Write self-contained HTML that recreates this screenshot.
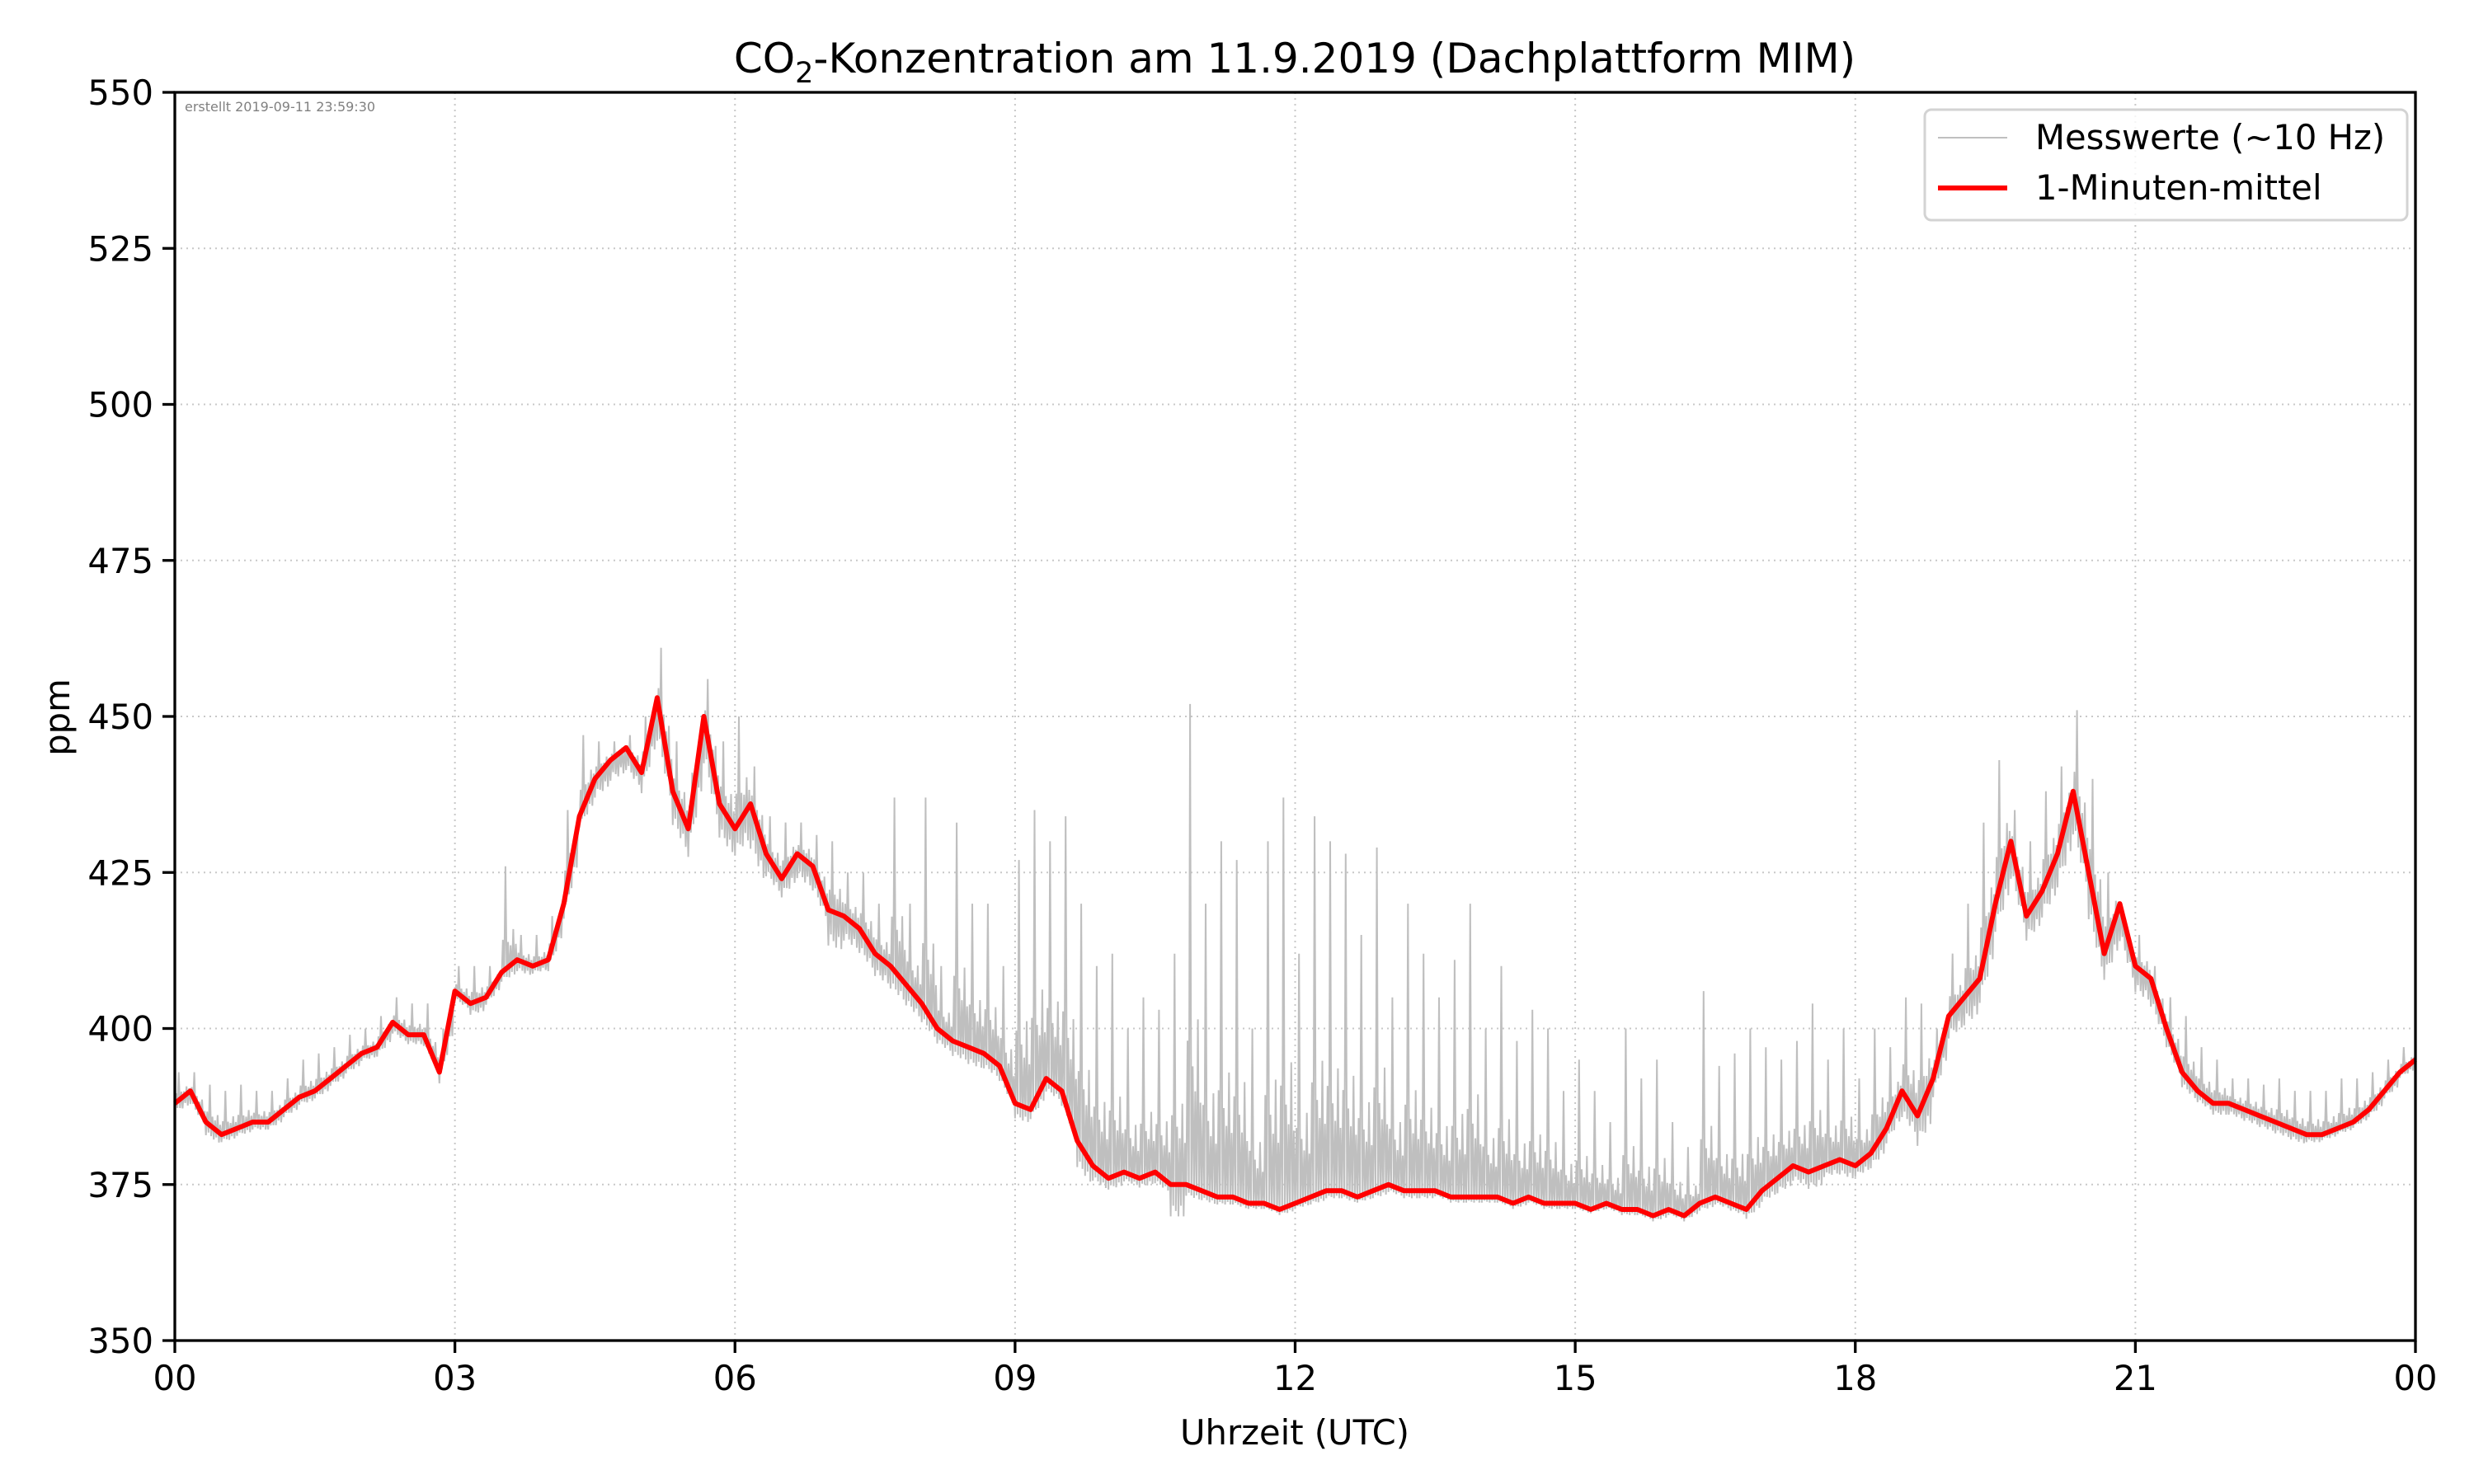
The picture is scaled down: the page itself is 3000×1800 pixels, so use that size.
<!DOCTYPE html>
<html><head><meta charset="utf-8"><style>
body{margin:0;background:#fff;}
svg{display:block;font-family:"DejaVu Sans","Liberation Sans",sans-serif;}
</style></head><body>
<svg id="chart" width="3000" height="1800" viewBox="0 0 3000 1800" xmlns="http://www.w3.org/2000/svg">
<rect width="3000" height="1800" fill="#fff"/>
<g id="grid"></g>
<g id="gray"></g>
<g id="red"></g>
<rect x="212" y="112" width="2717" height="1514" fill="none" stroke="#000" stroke-width="3.3"/>
<g id="ticks"></g>
<text x="1570" y="88" font-size="50" text-anchor="middle">CO<tspan font-size="35" dy="12">2</tspan><tspan dy="-12">-Konzentration am 11.9.2019 (Dachplattform MIM)</tspan></text>
<text x="1570" y="1752" font-size="41.7" text-anchor="middle">Uhrzeit (UTC)</text>
<text x="84" y="870" font-size="41.7" text-anchor="middle" transform="rotate(-90 84 870)">ppm</text>
<text x="224" y="135" font-size="16" fill="#808080">erstellt 2019-09-11 23:59:30</text>
<g>
<rect x="2334" y="133" width="585" height="134" rx="8" fill="#fff" fill-opacity="0.8" stroke="#d3d3d3" stroke-width="3"/>
<line x1="2350" y1="167" x2="2434" y2="167" stroke="#bfbfbf" stroke-width="2"/>
<text x="2468" y="181" font-size="41.7">Messwerte (~10 Hz)</text>
<line x1="2350" y1="228" x2="2434" y2="228" stroke="#ff0000" stroke-width="6"/>
<text x="2468" y="242" font-size="41.7">1-Minuten-mittel</text>
</g>
</svg>
<script>
// 10-minute sampled values, hours 0..24
const meanPpm = [
388,390,385,383,384,385, 385,387,389,390,392,394, 396,397,401,399,399,393,
406,404,405,409,411,410, 411,420,434,440,443,445, 441,453,438,432,450,436,
432,436,428,424,428,426, 419,418,416,412,410,407, 404,400,398,397,396,394,
388,387,392,390,382,378, 376,377,376,377,375,375, 374,373,373,372,372,371,
372,373,374,374,373,374, 375,374,374,374,373,373, 373,373,372,373,372,372,
372,371,372,371,371,370, 371,370,372,373,372,371, 374,376,378,377,378,379,
378,380,384,390,386,392, 402,405,408,420,430,418, 422,428,438,425,412,420,
410,408,400,393,390,388, 388,387,386,385,384,383, 383,384,385,387,390,393, 395];
const rawMax = [
393,393,391,390,391,390, 390,392,395,396,397,399, 400,402,405,404,404,400,
410,410,410,426,415,415, 418,435,447,446,446,447, 450,461,446,441,456,446,
450,442,434,433,433,431, 430,425,425,420,437,420, 437,410,433,420,420,410,
427,435,430,434,420,410, 412,400,405,403,412,452, 420,430,427,400,430,437,
412,434,430,428,415,429, 405,420,412,405,411,420, 400,410,398,403,400,390,
395,390,385,400,392,395, 385,381,406,394,396,400, 397,395,398,404,395,400,
392,400,397,405,404,400, 412,420,433,443,435,430, 438,442,451,440,425,415,
415,410,405,402,397,395, 392,392,391,392,390,390, 390,392,392,393,395,397, 397];
const rawMin = [
383,383,378,379,380,381, 381,383,385,386,388,390, 392,392,395,394,393,387,
401,398,401,404,405,406, 405,412,428,430,432,433, 430,430,420,417,425,418,
418,412,416,414,415,413, 400,405,403,400,398,396, 394,392,390,388,388,386,
380,382,385,382,368,370, 370,372,371,371,358,369, 369,369,369,369,369,368,
369,369,370,370,370,370, 371,370,370,371,370,370, 370,370,369,370,369,369,
369,369,369,368,368,367, 368,367,368,369,368,366, 368,368,370,368,372,371,
372,372,376,376,370,382, 390,390,395,405,410,405, 408,410,415,400,398,400,
396,393,390,385,384,382, 382,381,380,379,378,379, 380,381,382,383,386,390, 392];
const yTicks = [350,375,400,425,450,475,500,525,550];
const xTickLabels = ["00","03","06","09","12","15","18","21","00"];
const xTickHours = [0,3,6,9,12,15,18,21,24];

const NS="http://www.w3.org/2000/svg";
const X0=212,X1=2929,Y0=1626,Y1=112;
const xs=h=>X0+(X1-X0)*h/24;
const ys=v=>Y0-(Y0-Y1)*(v-350)/200;
function mk(tag,attrs,parent){const e=document.createElementNS(NS,tag);for(const k in attrs)e.setAttribute(k,attrs[k]);parent.appendChild(e);return e;}
const grid=document.getElementById('grid'),ticks=document.getElementById('ticks');
yTicks.forEach(v=>{
  const g=mk('line',{x1:X0,x2:X1,y1:ys(v),y2:ys(v),stroke:'#c8c8c8','stroke-width':2,'stroke-dasharray':'2,5'},grid);
  
  
  const t=mk('line',{x1:X0-15,x2:X0,y1:ys(v),y2:ys(v),stroke:'#000','stroke-width':3.3},ticks);
  
  
  const l=mk('text',{x:X0-26,y:ys(v)+15,'font-size':41.7,'text-anchor':'end'},ticks);
  l.textContent=v;
  
  
});
xTickHours.forEach((h,i)=>{
  const g=mk('line',{x1:xs(h),x2:xs(h),y1:Y0,y2:Y1,stroke:'#c8c8c8','stroke-width':2,'stroke-dasharray':'2,5'},grid);
  
  
  const t=mk('line',{x1:xs(h),x2:xs(h),y1:Y0,y2:Y0+15,stroke:'#000','stroke-width':3.3},ticks);
  
  
  const l=mk('text',{x:xs(h),y:Y0+60,'font-size':41.7,'text-anchor':'middle'},ticks);
  l.textContent=xTickLabels[i];
  
  
});
// gray raw signal: mostly near mean, one full spike up and one down per bin
const upPat=[0.15,0.3,0.1,1.0,0.12,0.25,0.08,0.2,0.1,0.35,0.05,0.18];
const dnPat=[0.3,0.5,0.2,0.4,0.25,1.0,0.3,0.45,0.2,0.5,0.3,0.4];
let gp=[];
const n=meanPpm.length;
for(let i=0;i<n-1;i++){
  const steps=upPat.length;
  for(let k=0;k<steps;k++){
    const h=(i+k/steps)*24/(n-1);
    const base=meanPpm[i]+(meanPpm[i+1]-meanPpm[i])*k/steps;
    const v=(k%2===1)? base+Math.max(0,rawMax[i]-base)*upPat[k] : base-Math.max(0,base-rawMin[i])*dnPat[k];
    gp.push(xs(h).toFixed(1)+','+ys(v).toFixed(1));
  }
}
gp.push(xs(24)+','+ys(meanPpm[n-1]));
const gl=mk('polyline',{points:gp.join(' '),fill:'none',stroke:'#bfbfbf','stroke-width':2},document.getElementById('gray'));


const rp=meanPpm.map((v,i)=>xs(i*24/(n-1)).toFixed(1)+','+ys(v).toFixed(1)).join(' ');
const rl=mk('polyline',{points:rp,fill:'none',stroke:'#ff0000','stroke-width':6,'stroke-linejoin':'round'},document.getElementById('red'));


</script>
</body></html>
